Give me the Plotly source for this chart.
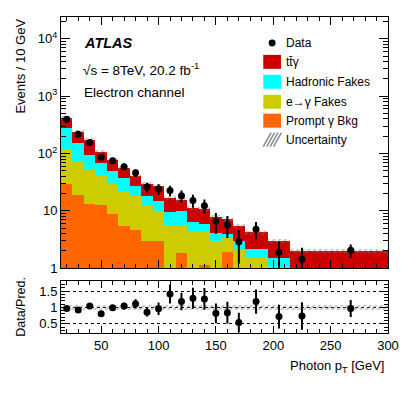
import numpy as np
import plotly.graph_objects as go

# photon pT bins [GeV]
edges = [15, 25, 35, 45, 55, 65, 75, 85, 95, 105, 115, 125, 135, 145, 155, 165, 175, 195, 215, 235, 300]

# predicted events / 10 GeV per sample
prompt_bkg = [29.7, 18.6, 13.3, 12.8, 8.7, 5.4, 4.7, 3.0, 3.0, 0, 1.85, 0, 1.16, 0, 1.92, 0, 0, 0, 0, 0]
e_fakes = [86.3, 54.4, 38.7, 30.2, 22.3, 15.6, 13.7, 9.0, 7.0, 5.75, 3.9, 4.2, 3.04, 2.95, 1.48, 2.1, 1.55, 1.05, 0.3, 0.3]
had_fakes = [167, 78, 43, 24, 19, 16, 8.3, 6.4, 5.0, 3.65, 4.05, 2.1, 1.8, 1.15, 0.55, 0.85, 0.65, 0.45, 0.4, 0.4]
ttgamma = [128, 85, 75, 38, 28, 20, 14.3, 11.3, 12, 7.3, 5.9, 4.9, 4.7, 3.7, 3.25, 2.45, 2.0, 1.45, 1.3, 1.33]
unc_rel = [0.08] * 20

data = [395, 217, 155, 86, 75, 59, 46, 26, 24, 22.7, 18.4, 15.2, 12.3, 6.6, 5.75, 2.9, 4.8, 1.9, 1.43, 2.05]
data_err = [20, 15, 12, 9, 9, 8, 7, 5, 5, 4.8, 4.3, 3.9, 3.5, 2.6, 2.4, 1.7, 1.6, 1.0, 0.85, 0.55]

ratio = [0.97, 0.92, 1.04, 0.81, 0.99, 1.04, 1.11, 0.85, 0.96, 1.41, 1.18, 1.28, 1.26, 0.82, 0.84, 0.54, 1.18, 0.72, 0.74, 0.97]
ratio_err = [0.05, 0.06, 0.07, 0.07, 0.08, 0.1, 0.14, 0.13, 0.19, 0.29, 0.27, 0.32, 0.33, 0.3, 0.33, 0.3, 0.37, 0.36, 0.42, 0.26]

edges = np.array(edges, dtype=float)
centers = (edges[:-1] + edges[1:]) / 2
widths = np.diff(edges)

stack = np.cumsum([prompt_bkg, e_fakes, had_fakes, ttgamma], axis=0)
total = stack[-1]
unc = np.array(unc_rel)

FONT = "Liberation Sans"
# page body has an 8px margin, so the figure is made 8px smaller and shifted
OFF = 8
W, H = 407 - OFF, 395 - OFF
L, R, T, B = 61 - OFF, 13, 16 - OFF, 62


def px(x):
    # reference pixel x -> paper
    return (x - 61) / 333


def py(y):
    # reference pixel y -> paper
    return (333 - y) / 317


fig = go.Figure()

colors = ["#ff6600", "#cccc00", "#00ffff", "#cc0000"]
for i in [3, 2, 1, 0]:
    fig.add_trace(go.Bar(x=centers, y=stack[i], width=widths, marker=dict(color=colors[i], line=dict(width=0)),
                         xaxis="x", yaxis="y", showlegend=False))

hatch = dict(color="rgba(0,0,0,0)", line=dict(width=0),
             pattern=dict(shape="/", fgcolor="#7a7a7a", bgcolor="rgba(0,0,0,0)", size=4, solidity=0.45, fillmode="overlay"))
fig.add_trace(go.Bar(x=centers, y=2 * unc * total, base=total * (1 - unc), width=widths, marker=hatch,
                     xaxis="x", yaxis="y", showlegend=False))
fig.add_trace(go.Scatter(x=centers, y=data, mode="markers", marker=dict(color="black", size=7),
                         error_y=dict(type="data", array=data_err, color="black", thickness=2, width=0),
                         xaxis="x", yaxis="y", showlegend=False))

# ratio panel
fig.add_trace(go.Bar(x=centers, y=2 * unc, base=1 - unc, width=widths, marker=hatch,
                     xaxis="x2", yaxis="y2", showlegend=False))
fig.add_trace(go.Scatter(x=centers, y=ratio, mode="markers", marker=dict(color="black", size=7),
                         error_y=dict(type="data", array=ratio_err, color="black", thickness=2, width=0),
                         xaxis="x2", yaxis="y2", showlegend=False))

axis_common = dict(showline=True, mirror="allticks", linecolor="black", linewidth=1, ticks="inside",
                   tickcolor="black", showgrid=False, zeroline=False,
                   tickfont=dict(family=FONT, size=13, color="black"))

main_minor = [m * 10 ** d for d in range(0, 5) for m in range(2, 10)]

fig.update_layout(
    width=W, height=H, margin=dict(l=L, r=R, t=T, b=B),
    paper_bgcolor="white", plot_bgcolor="white", barmode="overlay", bargap=0,
    font=dict(family=FONT, color="black"),
    xaxis=dict(axis_common, range=[15, 300], domain=[0, 1], anchor="y", showticklabels=False,
               dtick=50, tick0=0, ticklen=8, minor=dict(dtick=10, tick0=0, ticklen=4, ticks="inside", tickcolor="black")),
    yaxis=dict(axis_common, type="log", range=[0, 4.38], domain=[0.205, 1], anchor="x",
               tickvals=[1, 10, 100, 1000, 10000],
               ticktext=["1", "10", "10<sup>2</sup>", "10<sup>3</sup>", "10<sup>4</sup>"],
               ticklen=9, minor=dict(tickmode="array", tickvals=main_minor, ticklen=5, ticks="inside", tickcolor="black")),
    xaxis2=dict(axis_common, range=[15, 300], domain=[0, 1], anchor="y2",
                tickvals=[50, 100, 150, 200, 250, 300], ticklen=7,
                minor=dict(dtick=10, tick0=0, ticklen=4, ticks="inside", tickcolor="black")),
    yaxis2=dict(axis_common, range=[0.22, 1.8], domain=[0, 0.164], anchor="x2",
                tickvals=[0.5, 1, 1.5], ticktext=["0.5", "1", "1.5"], ticklen=8,
                showgrid=True, gridcolor="black", griddash="dot", gridwidth=1,
                minor=dict(dtick=0.1, tick0=0, ticklen=4, ticks="inside", tickcolor="black")),
)

ann = [
    dict(text="<b><i>ATLAS</i></b>", x=px(82), y=py(42), size=14.5, xanchor="left"),
    dict(text="\u221as = 8TeV, 20.2 fb<sup>-1</sup>", x=px(81), y=py(68), size=13.5, xanchor="left"),
    dict(text="Electron channel", x=px(82), y=py(92), size=13.5, xanchor="left"),
    dict(text="Data", x=px(288), y=py(42), size=12, xanchor="left"),
    dict(text="tt\u0304\u03b3", x=px(288), y=py(61), size=12, xanchor="left"),
    dict(text="Hadronic Fakes", x=px(288), y=py(81), size=12, xanchor="left"),
    dict(text="e\u2192\u03b3 Fakes", x=px(288), y=py(101), size=12, xanchor="left"),
    dict(text="Prompt \u03b3 Bkg", x=px(288), y=py(120), size=12, xanchor="left"),
    dict(text="Uncertainty", x=px(288), y=py(139), size=12, xanchor="left"),
    dict(text="Photon p<sub>T</sub> [GeV]", x=px(392), y=py(367), size=13, xanchor="right"),
]
for a in ann:
    fig.add_annotation(text=a["text"], x=a["x"], y=a["y"], xref="paper", yref="paper", showarrow=False,
                       xanchor=a["xanchor"], yanchor="middle", font=dict(family=FONT, size=a["size"], color="black"))

fig.add_annotation(text="Events / 10 GeV", x=px(20), y=py(65), xref="paper", yref="paper", showarrow=False,
                   textangle=-90, xanchor="center", yanchor="middle", font=dict(family=FONT, size=13, color="black"))
fig.add_annotation(text="Data/Pred.", x=px(20), y=py(307), xref="paper", yref="paper", showarrow=False,
                   textangle=-90, xanchor="center", yanchor="middle", font=dict(family=FONT, size=12.5, color="black"))

# legend symbols
fig.add_shape(type="circle", xref="paper", yref="paper", x0=px(272.5), x1=px(279.5), y0=py(45.5), y1=py(38.5),
              fillcolor="black", line=dict(width=0))
for yc, c in zip([61, 81, 101, 120], ["#cc0000", "#00ffff", "#cccc00", "#ff6600"]):
    fig.add_shape(type="rect", xref="paper", yref="paper", x0=px(267), x1=px(285), y0=py(yc + 7), y1=py(yc - 7),
                  fillcolor=c, line=dict(width=0))
for k in range(4):
    fig.add_shape(type="line", xref="paper", yref="paper", x0=px(267 + 3.5 * k), y0=py(146),
                  x1=px(275 + 3.5 * k), y1=py(132), line=dict(color="#8c8c8c", width=1.5))

fig.write_html("out.html")
